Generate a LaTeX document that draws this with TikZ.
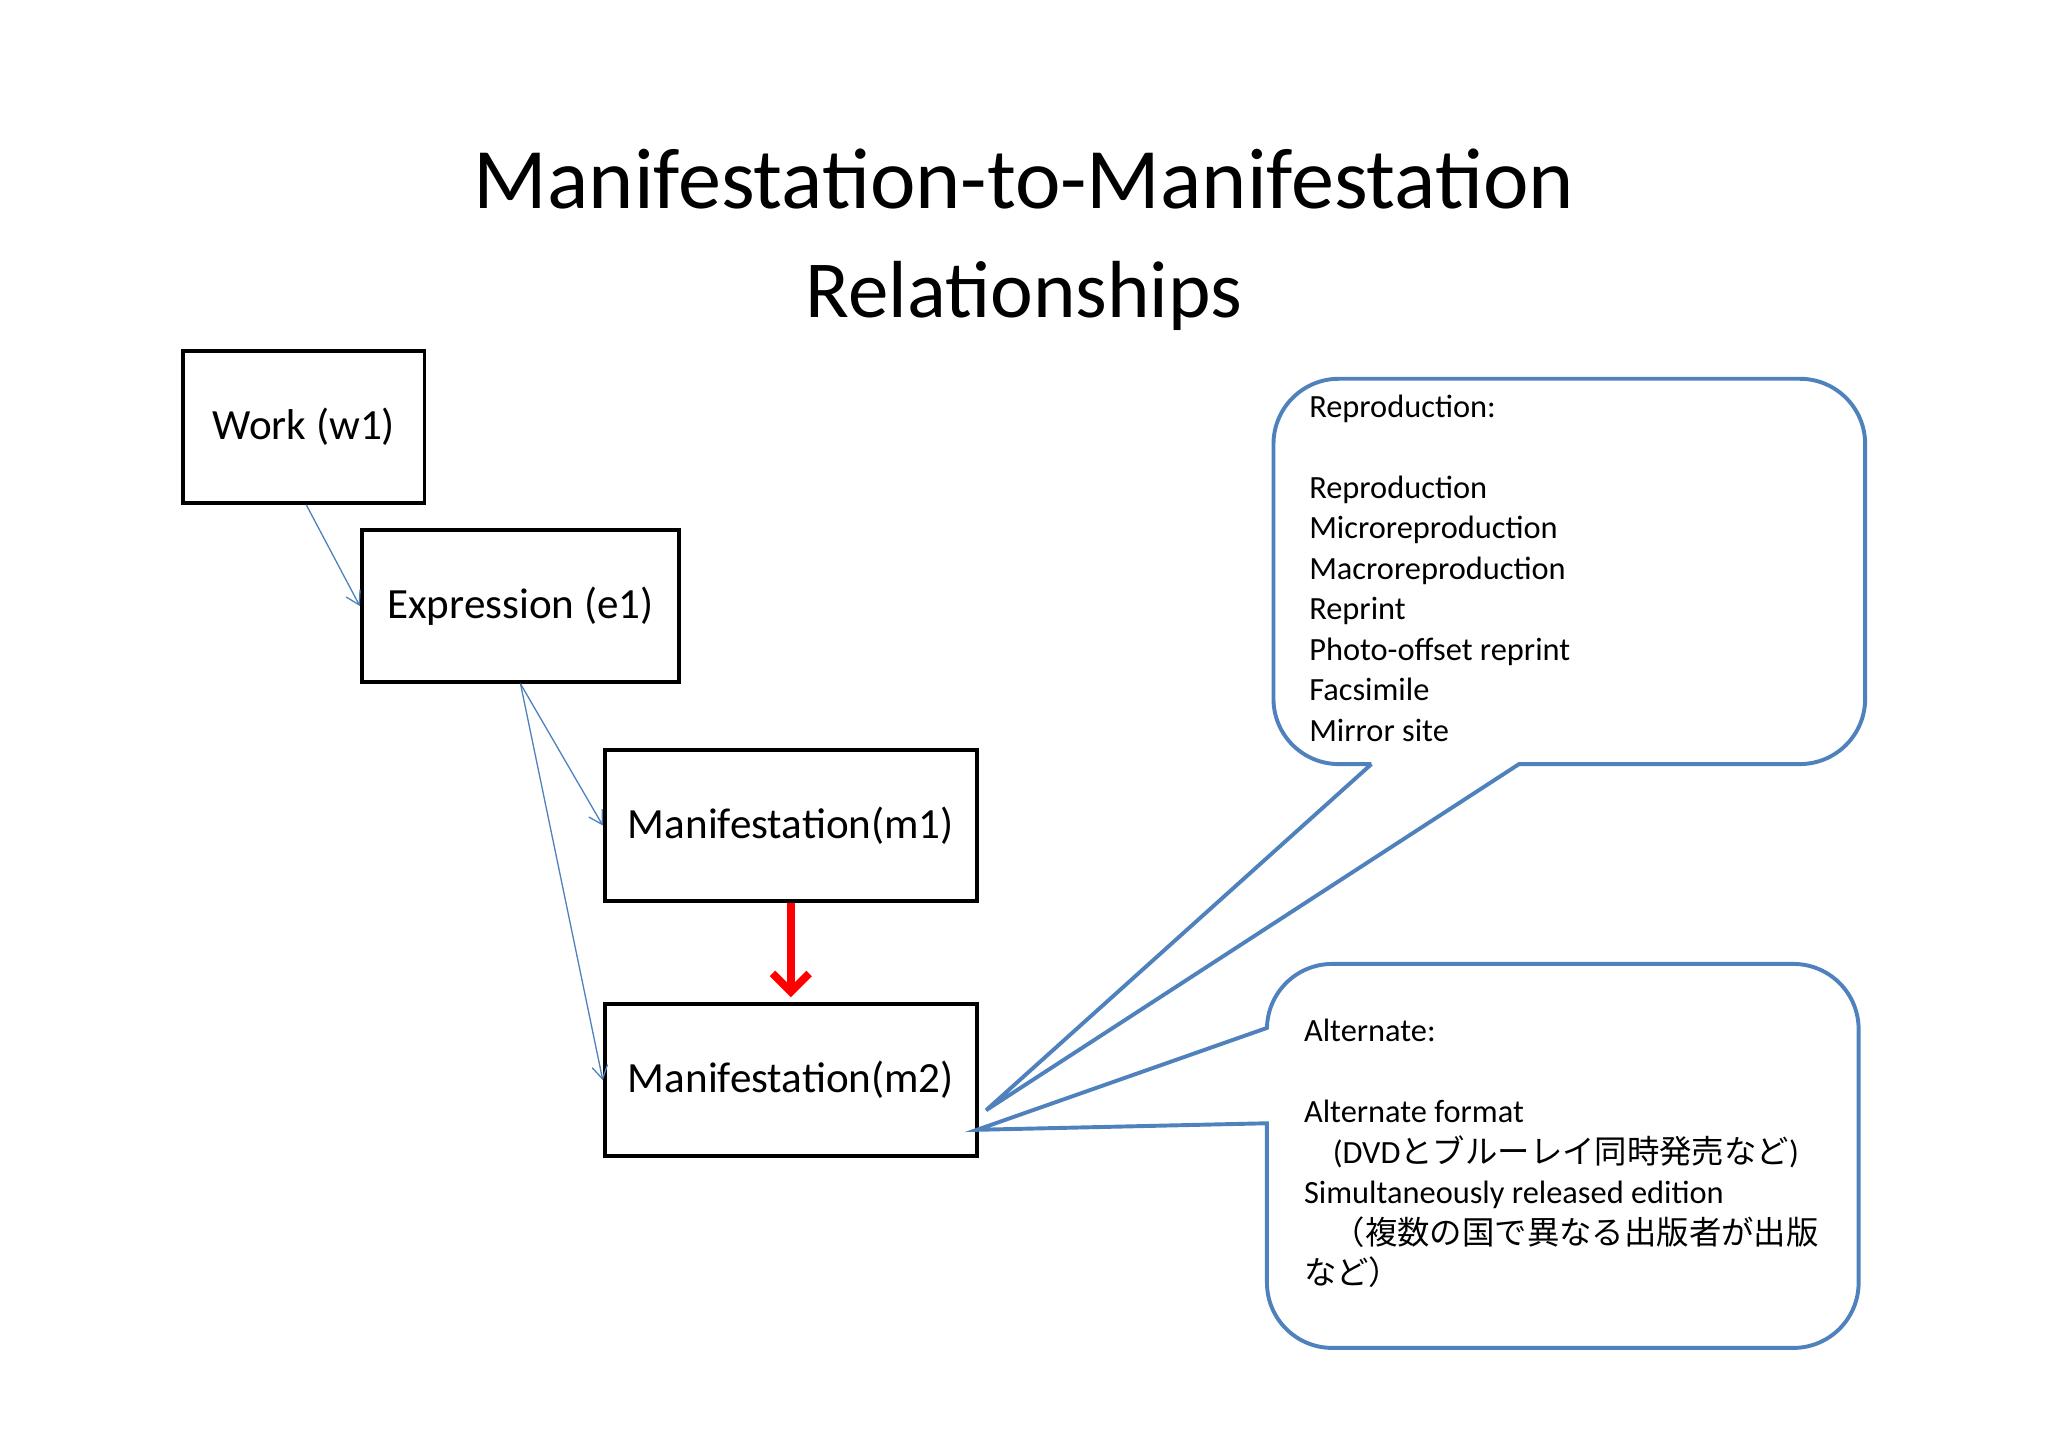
\documentclass[tikz,border=0pt]{standalone}
\usepackage{fontspec}
\setmainfont{Carlito}
\newfontfamily\cjk{Noto Sans CJK JP}
\usetikzlibrary{arrows.meta}
\definecolor{bl}{HTML}{4F81BD}
\begin{document}
\begin{tikzpicture}[x=0.5pt,y=-0.5pt,
  box/.style={draw=black,line width=1.5pt,font=\fontsize{16.5}{20}\selectfont},
  thin/.style={draw=bl,line width=0.5pt,-{Straight Barb[length=5pt,width=6pt]}},
  call/.style={draw=bl,line width=1.5pt},
  txt/.style={anchor=north west,align=left,inner sep=0pt,font=\fontsize{12.4}{15.5}\selectfont}]
\useasboundingbox (0,0) rectangle (1568,1108);
\node[anchor=base,font=\fontsize{33}{40}\selectfont] (t1) at (784,160) {Manifestation-to-Manifestation};
\node[anchor=base,font=\fontsize{31}{40}\selectfont] (t2) at (784,243) {Relationships};
\node[box,minimum width=92.5pt,minimum height=58pt] (w) at (232.5,327) {Work (w1)};
\node[box,minimum width=121.5pt,minimum height=58pt] (e) at (398.5,464) {Expression (e1)};
\node[box,minimum width=142.5pt,minimum height=58pt] (m1) at (605.5,632) {Manifestation(m1)};
\node[box,minimum width=142.5pt,minimum height=58pt] (m2) at (605.5,827) {Manifestation(m2)};
\draw[thin] ([xshift=1pt]w.south) -- (e.west);
\draw[thin] (e.south) -- (m1.west);
\draw[thin] (e.south) -- (m2.west);
\draw[red,line width=3pt,-{Straight Barb[length=7pt,width=14pt,line width=3pt]}] (m1.south) -- ([yshift=2pt]m2.north);
\coordinate (p1) at (755,850);
\coordinate (p2) at (748,865);
\draw[call] (1050,585) -- (p1) -- (1163,585) [rounded corners=25pt] -- (1428,585) -- (1428,290) -- (975,290) -- (975,585) -- (1050,585);
\draw[call] (970,787) -- (p2) -- (970,860) [rounded corners=25pt] -- (970,1032) -- (1423,1032) -- (1423,738) -- (970,738) -- (970,787);
\node[txt] (c1) at (1002,302) {Reproduction:\\[15.5pt]Reproduction\\Microreproduction\\Macroreproduction\\Reprint\\Photo-offset reprint\\Facsimile\\Mirror site};
\node[txt] (c2) at (998,780) {Alternate:\\[15.5pt]Alternate format\\\hspace*{11pt}(DVD{\cjk とブルーレイ同時発売など})\\Simultaneously released edition\\\hspace*{11pt}{\cjk （複数の国で異なる出版者が出版}\\{\cjk など）}};
\end{tikzpicture}
\end{document}
